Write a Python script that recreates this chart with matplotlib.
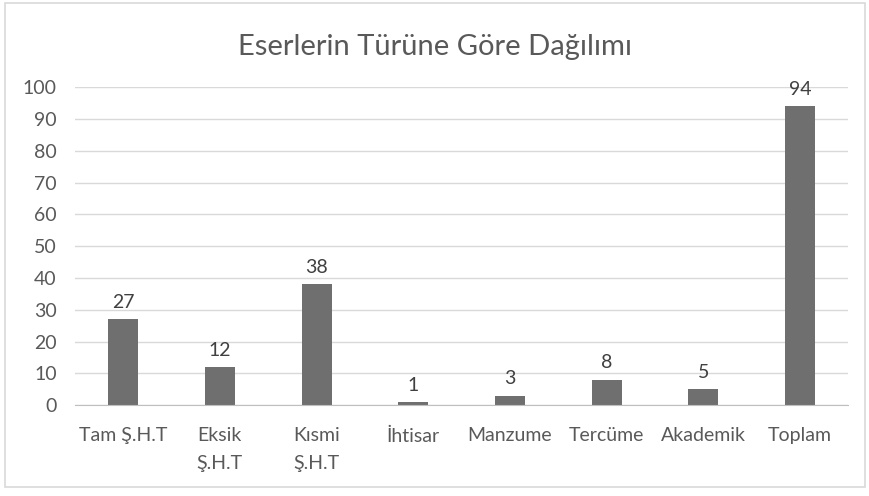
import matplotlib.pyplot as plt
from matplotlib.patches import Rectangle

# chart data
categories = ['Tam Ş.H.T', 'Eksik\nŞ.H.T', 'Kısmi\nŞ.H.T', 'İhtisar',
              'Manzume', 'Tercüme', 'Akademik', 'Toplam']
values = [27, 12, 38, 1, 3, 8, 5, 94]
yticks = list(range(0, 101, 10))

plt.rcParams['font.family'] = ['Lato', 'DejaVu Sans']

fig = plt.figure(figsize=(8.7, 4.96), dpi=100)
ax = fig.add_axes([0.086, 0.183, 0.889, 0.641])

x = range(len(categories))
bars = ax.bar(x, values, width=0.31, color='#6f6f6f', zorder=3)

for b, v in zip(bars, values):
    ax.annotate(str(v), (b.get_x() + b.get_width() / 2, v),
                xytext=(0, 6), textcoords='offset points',
                ha='center', va='bottom', fontsize=14, color='#404040')

ax.set_xlim(-0.5, len(categories) - 0.5)
ax.set_ylim(0, 100)
ax.set_yticks(yticks)
ax.set_xticks(list(x))
ax.set_xticklabels(categories, linespacing=1.75)
ax.grid(axis='y', color='#d9d9d9', linewidth=1, zorder=0)

for s in ['top', 'right', 'left']:
    ax.spines[s].set_visible(False)
ax.spines['bottom'].set_color('#bfbfbf')
ax.spines['bottom'].set_zorder(4)

ax.tick_params(axis='both', length=0, labelsize=14, labelcolor='#595959')
ax.tick_params(axis='x', pad=16)
ax.tick_params(axis='y', pad=13)

fig.text(0.5, 0.905, 'Eserlerin Türüne Göre Dağılımı', ha='center', va='center',
         fontsize=21, color='#595959')

# outer chart border
fig.patches.append(Rectangle((0.006, 0.018), 0.988, 0.975, transform=fig.transFigure,
                             fill=False, edgecolor='#d9d9d9', linewidth=1.2))

fig.savefig('out.png', dpi=100)
